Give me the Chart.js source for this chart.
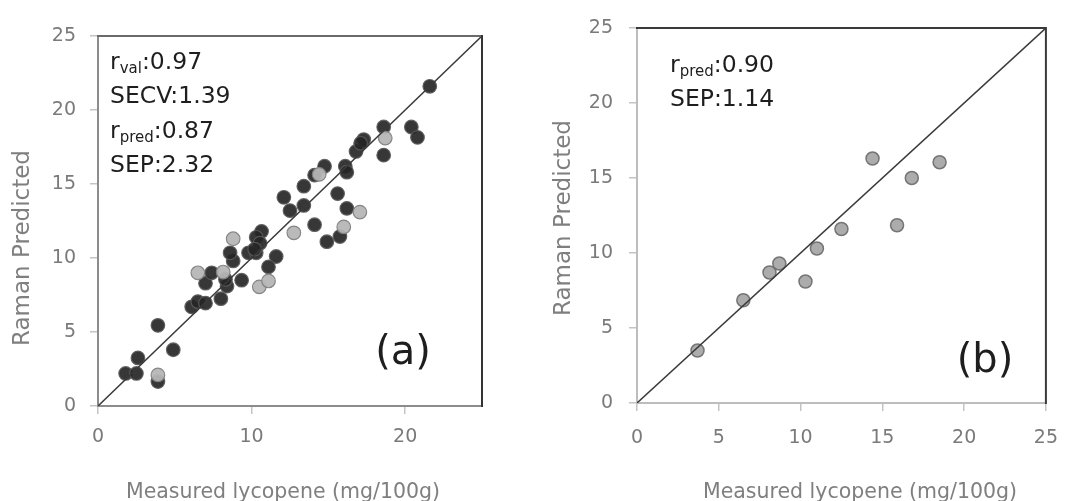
<!DOCTYPE html>
<html><head><meta charset="utf-8">
<script src="https://cdn.jsdelivr.net/npm/chart.js@4/dist/chart.umd.min.js"></script>
<style>
html,body{margin:0;padding:0;background:#fff;width:1074px;height:501px;overflow:hidden}
#ca{position:absolute;left:0;top:0}
#cb{position:absolute;left:540px;top:0}
</style></head><body>
<canvas id="ca" width="540" height="501"></canvas>
<canvas id="cb" width="534" height="501"></canvas>
<script>
// ---- tick labels ----
const xTicksA = [0, 10, 20];
const yTicksA = [0, 5, 10, 15, 20, 25];
const xTicksB = [0, 5, 10, 15, 20, 25];
const yTicksB = [0, 5, 10, 15, 20, 25];
const axisMin = 0, axisMax = 25;

// ---- panel (a): calibration / cross-validation (dark) ----
const calX = [1.8, 2.5, 2.6, 3.9, 4.9, 3.9, 6.1, 6.5, 7.0, 8.0, 7.0, 7.4, 8.4, 8.3, 9.35, 8.8, 8.6,
  9.8, 10.3, 11.6, 11.1, 10.65, 10.3, 10.55, 10.2, 12.1, 12.5, 13.4, 13.4, 14.1, 14.75, 14.1, 14.9,
  15.75, 15.6, 16.2, 16.1, 16.2, 16.8, 17.3, 17.1, 18.6, 18.6, 20.4, 20.8, 21.6];
const calY = [2.2, 2.2, 3.25, 5.45, 3.8, 1.65, 6.7, 7.05, 6.95, 7.25, 8.3, 9.0, 8.1, 8.55, 8.5, 9.8, 10.35,
  10.35, 10.35, 10.1, 9.4, 11.8, 11.4, 11.0, 10.6, 14.1, 13.2, 13.55, 14.85, 15.6, 16.2, 12.25, 11.1,
  11.45, 14.35, 13.35, 16.2, 15.8, 17.2, 18.0, 17.75, 16.95, 18.85, 18.85, 18.15, 21.6];
// ---- panel (a): prediction set (light) ----
const predAX = [3.9, 6.5, 8.15, 8.8, 10.5, 11.1, 12.75, 14.4, 16.0, 17.05, 18.7];
const predAY = [2.1, 9.0, 9.05, 11.3, 8.05, 8.45, 11.7, 15.65, 12.1, 13.1, 18.1];
// ---- panel (b): prediction set ----
const predBX = [3.7, 6.5, 8.1, 8.7, 10.3, 11.0, 12.5, 14.4, 15.9, 16.8, 18.5];
const predBY = [3.5, 6.85, 8.7, 9.3, 8.1, 10.3, 11.6, 16.3, 11.85, 15.0, 16.05];
// ---- 1:1 line ----
const lineX = [0, 25];
const lineY = [0, 25];

// ---- texts ----
const xTitle = 'Measured lycopene (mg/100g)';
const yTitle = 'Raman Predicted';
const statsA = [['r', 'val', ':0.97'], ['SECV:1.39', '', ''], ['r', 'pred', ':0.87'], ['SEP:2.32', '', '']];
const statsB = [['r', 'pred', ':0.90'], ['SEP:1.14', '', '']];

const FONT = 'DejaVu Sans';
const pts = (xs, ys) => xs.map((x, i) => ({x: x, y: ys[i]}));

const panelPlugin = {
  id: 'panel',
  afterDraw(chart, args, o) {
    const ctx = chart.ctx, a = chart.chartArea;
    ctx.save();
    // top & right frame
    ctx.lineWidth = 2;
    ctx.strokeStyle = o.topColor;
    ctx.beginPath(); ctx.moveTo(a.left - 1, a.top); ctx.lineTo(a.right, a.top); ctx.stroke();
    ctx.strokeStyle = o.rightColor;
    ctx.beginPath(); ctx.moveTo(a.right, a.top - 1); ctx.lineTo(a.right, a.bottom + 1); ctx.stroke();
    // axis titles
    ctx.fillStyle = '#7f7f7f';
    ctx.font = '20.5px "' + FONT + '"';
    ctx.textAlign = 'center'; ctx.textBaseline = 'alphabetic';
    ctx.fillText(xTitle, o.xTitleX, o.xTitleY);
    ctx.save();
    ctx.translate(o.yTitleX, o.yTitleY); ctx.rotate(-Math.PI / 2);
    ctx.font = '23px "' + FONT + '"'; ctx.textBaseline = 'middle';
    ctx.fillText(yTitle, 0, 0);
    ctx.restore();
    // statistics
    ctx.fillStyle = '#1e1e1e'; ctx.textAlign = 'left'; ctx.textBaseline = 'alphabetic';
    o.stats.forEach((s, i) => {
      let x = o.statX; const y = o.statY[i];
      ctx.font = '23.5px "' + FONT + '"'; ctx.fillText(s[0], x, y); x += ctx.measureText(s[0]).width;
      if (s[1]) { ctx.font = '15px "' + FONT + '"'; ctx.fillText(s[1], x, y + 4); x += ctx.measureText(s[1]).width; }
      if (s[2]) { ctx.font = '23.5px "' + FONT + '"'; ctx.fillText(s[2], x, y); }
    });
    // panel label
    ctx.font = '40px "' + FONT + '"'; ctx.textAlign = 'center';
    ctx.fillText(o.label, o.labelX, o.labelY);
    ctx.restore();
  }
};

function axis(ticksArr, fitProp, fitVal, pad, borderColor) {
  return {
    type: 'linear', min: axisMin, max: axisMax,
    afterBuildTicks: s => { s.ticks = ticksArr.map(v => ({value: v})); },
    afterFit: s => { s[fitProp] = fitVal; },
    ticks: {color: '#7a7a7a', font: {family: FONT, size: 19}, padding: pad, maxRotation: 0, autoSkip: false},
    grid: {drawOnChartArea: false, drawTicks: true, tickLength: 8, color: '#c4c4c4', lineWidth: 1.5},
    border: {display: true, color: borderColor, width: 2}
  };
}

function makeChart(id, datasets, xt, yt, layoutPad, xH, yW, xPad, yPad, borderColor, panelOpts) {
  return new Chart(document.getElementById(id), {
    type: 'scatter',
    data: {datasets: datasets},
    options: {
      responsive: false, animation: false, events: [],
      layout: {padding: layoutPad},
      scales: {x: axis(xt, 'height', xH, xPad, borderColor), y: axis(yt, 'width', yW, yPad, borderColor)},
      plugins: {legend: {display: false}, tooltip: {enabled: false}, panel: panelOpts}
    },
    plugins: [panelPlugin]
  });
}

makeChart('ca', [
  {data: pts(lineX, lineY), showLine: true, borderColor: '#3a3a3a', borderWidth: 1.5, pointRadius: 0, order: 0},
  {data: pts(predAX, predAY), backgroundColor: 'rgba(182,182,182,0.95)', borderColor: 'rgba(130,130,130,0.95)', borderWidth: 1.2, pointRadius: 6.8, order: 1},
  {data: pts(calX, calY), backgroundColor: 'rgba(38,38,38,0.92)', borderColor: 'rgba(90,90,90,0.9)', borderWidth: 1.2, pointRadius: 6.8, order: 2}
], xTicksA, yTicksA, {left: 0, top: 36, right: 58, bottom: 35}, 60, 98, 12, 14, '#8c8c8c',
  {topColor: '#6a6a6a', rightColor: '#333333', xTitleX: 283, xTitleY: 498, yTitleX: 23, yTitleY: 248,
   stats: statsA, statX: 110, statY: [69, 103, 138, 172], label: '(a)', labelX: 403, labelY: 364});

makeChart('cb', [
  {data: pts(lineX, lineY), showLine: true, borderColor: '#3a3a3a', borderWidth: 1.5, pointRadius: 0, order: 0},
  {data: pts(predBX, predBY), backgroundColor: 'rgba(168,168,168,0.95)', borderColor: 'rgba(112,112,112,0.95)', borderWidth: 1.5, pointRadius: 6.5, order: 1}
], xTicksB, yTicksB, {left: 0, top: 28, right: 26, bottom: 38}, 60, 97, 16, 16, '#bdbdbd',
  {topColor: '#3a3a3a', rightColor: '#3a3a3a', xTitleX: 320, xTitleY: 498, yTitleX: 24, yTitleY: 218,
   stats: statsB, statX: 130, statY: [72, 106], label: '(b)', labelX: 445, labelY: 372});
</script>
</body></html>
